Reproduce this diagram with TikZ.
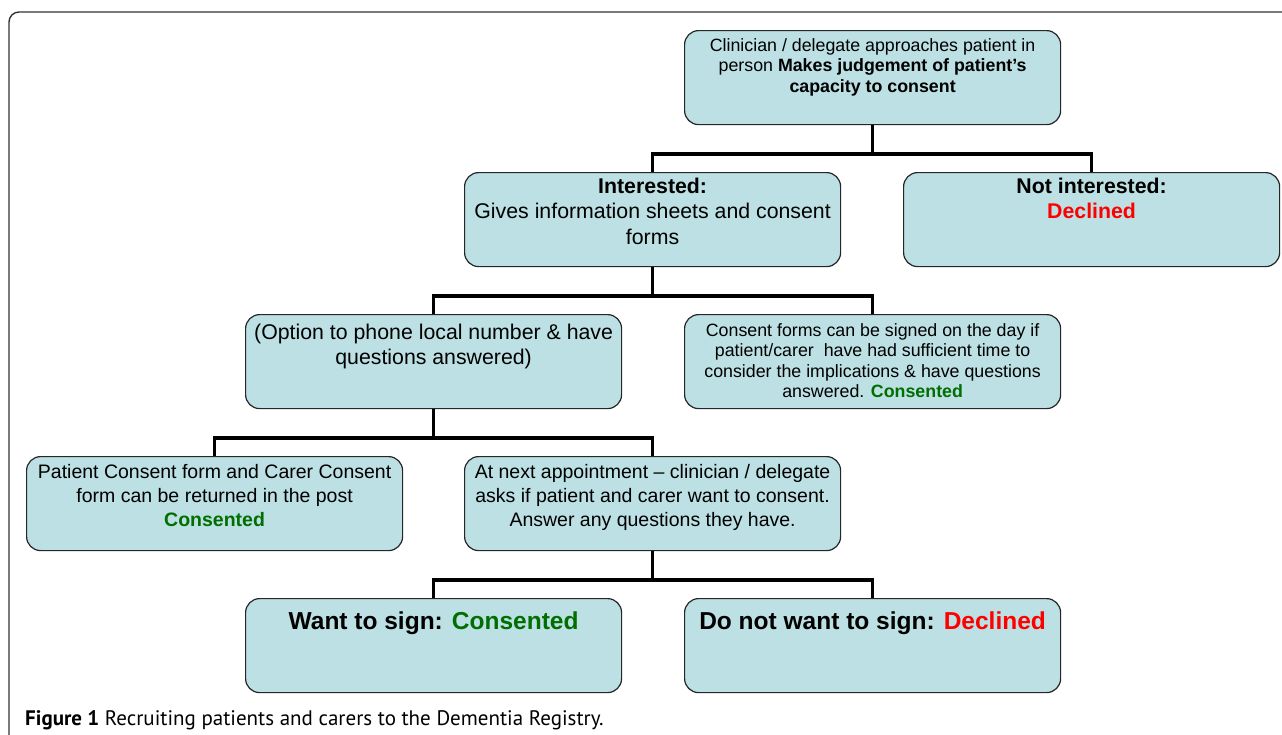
\documentclass[tikz,border=0pt]{standalone}
\usepackage{fontspec}
\setmainfont{Liberation Sans}
\newfontfamily\capfont{PT Sans}
\definecolor{boxfill}{RGB}{188,224,227}
\definecolor{okgreen}{RGB}{0,110,0}
\definecolor{nored}{RGB}{255,0,0}
\definecolor{framegray}{RGB}{50,50,50}
\newcommand{\okc}[1]{\textbf{\textcolor{okgreen}{#1}}}
\newcommand{\noc}[1]{\textbf{\textcolor{nored}{#1}}}
\begin{document}
\begin{tikzpicture}[x=1pt,y=-1pt,
  flowbox/.style={draw=black!85, line width=1.2pt, fill=boxfill, rounded corners=14pt,
    minimum width=376pt, minimum height=94pt, inner sep=0pt, anchor=north west},
  txt/.style={anchor=north, align=center, inner sep=0pt, text=black},
  fsmall/.style={font=\fontsize{17.8}{20.5}\selectfont},
  fmid/.style={font=\fontsize{19.5}{24}\selectfont},
  fbig/.style={font=\fontsize{21.3}{25.3}\selectfont},
  fhuge/.style={font=\fontsize{24.5}{28}\selectfont\bfseries},
  link/.style={line width=3.6pt, draw=black}
]
\useasboundingbox (0,0) rectangle (1282,734);
% outer frame
\draw[line width=1.4pt, draw=framegray, rounded corners=10pt] (9,760) -- (9,12) -- (1300,12);

% boxes
\node[flowbox] (A) at (684,30) {};
\node[flowbox] (B) at (464,172) {};
\node[flowbox] (C) at (903,172) {};
\node[flowbox] (D) at (245,314) {};
\node[flowbox] (E) at (684,314) {};
\node[flowbox] (F) at (26,456) {};
\node[flowbox] (G) at (464,456) {};
\node[flowbox] (H) at (245,598) {};
\node[flowbox] (I) at (684,598) {};

% texts
\node[txt, fsmall] (tA) at ([yshift=-8pt]A.north)
  {Clinician / delegate approaches patient in\\person \textbf{Makes judgement of patient’s}\\\textbf{capacity to consent}};
\node[txt, fbig] (tB) at ([yshift=-6pt]B.north)
  {\textbf{Interested:}\\Gives information sheets and consent\\forms};
\node[txt, fbig] (tC) at ([yshift=-6pt]C.north)
  {\textbf{Not interested:}\\\noc{Declined}};
\node[txt, fbig] (tD) at ([yshift=-10pt]D.north)
  {(Option to phone local number \& have\\questions answered)};
\node[txt, fsmall] (tE) at ([yshift=-9pt]E.north)
  {Consent forms can be signed on the day if\\patient/carer\ \ have had sufficient time to\\consider the implications \& have questions\\answered. \okc{Consented}};
\node[txt, fmid] (tF) at ([yshift=-8pt]F.north)
  {Patient Consent form and Carer Consent\\form can be returned in the post\\\okc{Consented}};
\node[txt, fmid] (tG) at ([yshift=-8pt]G.north)
  {At next appointment – clinician / delegate\\asks if patient and carer want to consent.\\Answer any questions they have.};
\node[txt, fhuge] (tH) at ([yshift=-14pt]H.north)
  {Want to sign: \textcolor{okgreen}{Consented}};
\node[txt, fhuge] (tI) at ([yshift=-14pt]I.north)
  {Do not want to sign: \textcolor{nored}{Declined}};

% connectors
\coordinate (j1) at (A.south |- 0,154);
\coordinate (j2) at (B.south |- 0,296);
\coordinate (j3) at (D.south |- 0,438);
\coordinate (j4) at (G.south |- 0,580);
\draw[link] (A.south) -- (j1);
\draw[link] (B.north) |- (j1) -| (C.north);
\draw[link] (B.south) -- (j2);
\draw[link] (D.north) |- (j2) -| (E.north);
\draw[link] (D.south) -- (j3);
\draw[link] (F.north) |- (j3) -| (G.north);
\draw[link] (G.south) -- (j4);
\draw[link] (H.north) |- (j4) -| (I.north);

% caption
\node[anchor=base west, inner sep=0pt, font=\capfont\fontsize{21}{25}\selectfont] (cap) at (25,725)
  {\textbf{Figure 1} Recruiting patients and carers to the Dementia Registry.};
\end{tikzpicture}
\end{document}
